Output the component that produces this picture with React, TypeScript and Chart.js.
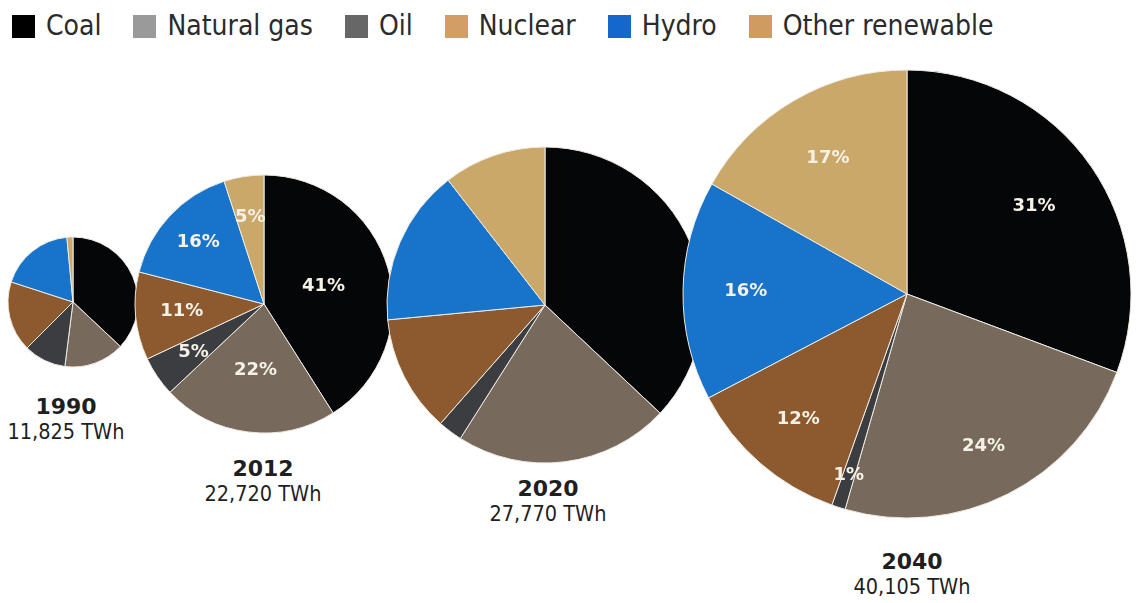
import React, { useEffect, useRef } from "react";
import { Chart, registerables } from "chart.js";

Chart.register(...registerables);

// ---- data ----
const sources = ["Coal", "Natural gas", "Oil", "Nuclear", "Hydro", "Other renewable"];
const years = ["1990", "2012", "2020", "2040"];
const totals = ["11,825 TWh", "22,720 TWh", "27,770 TWh", "40,105 TWh"];
const share1990 = [37, 15, 10.5, 17.5, 18.5, 1.5];
const share2012 = [41, 22, 5, 11, 16, 5];
const share2020 = [37, 22, 2.5, 12, 16, 10.5];
const share2040 = [31, 24, 1, 12, 16, 17];
const showPercent = [false, true, false, true];

// ---- styles ----
const sliceColors = ["#050608", "#776a5c", "#3c3d40", "#8c5a2e", "#1873cb", "#c9a86a"];
const legendColors = ["#000000", "#9a9a9a", "#676767", "#d29e66", "#1467cc", "#d09b60"];

const layout = [
  { cx: 73, cy: 302, r: 65, lx: 66, base: 415, factors: [0.6, 0.6, 0.6, 0.6, 0.6, 0.6] },
  { cx: 264, cy: 304, r: 129, lx: 263, base: 477, factors: [0.48, 0.52, 0.66, 0.64, 0.7, 0.68] },
  { cx: 545, cy: 305, r: 158, lx: 548, base: 497, factors: [0.6, 0.6, 0.6, 0.6, 0.6, 0.6] },
  { cx: 907, cy: 294, r: 224, lx: 912, base: 570, factors: [0.69, 0.76, 0.85, 0.74, 0.72, 0.7] },
];

const allShares = [share1990, share2012, share2020, share2040];

const pctLabels = {
  id: "pctLabels",
  afterDatasetsDraw(chart: any, _args: any, opts: any) {
    if (!opts || !opts.show) return;
    const meta = chart.getDatasetMeta(0);
    const ctx = chart.ctx;
    const vals = chart.data.datasets[0].data;
    ctx.save();
    ctx.font = "bold 18px 'DejaVu Sans', sans-serif";
    ctx.fillStyle = "#f6f1e6";
    ctx.textAlign = "center";
    ctx.textBaseline = "middle";
    meta.data.forEach((arc: any, i: number) => {
      const p = arc.getProps(["x", "y", "startAngle", "endAngle", "outerRadius"], true);
      const mid = (p.startAngle + p.endAngle) / 2;
      const rr = p.outerRadius * (opts.factors[i] ?? 0.65);
      ctx.fillText(vals[i] + "%", p.x + Math.cos(mid) * rr, p.y + Math.sin(mid) * rr);
    });
    ctx.restore();
  },
};

function Pie({ idx }: { idx: number }) {
  const ref = useRef<HTMLCanvasElement>(null);
  const L = layout[idx];
  const S = Math.ceil(2 * L.r + 8);
  useEffect(() => {
    const chart = new Chart(ref.current as HTMLCanvasElement, {
      type: "pie",
      data: {
        labels: sources,
        datasets: [
          {
            data: allShares[idx],
            backgroundColor: sliceColors,
            borderColor: "#eeeae2",
            borderWidth: 1,
          },
        ],
      },
      options: {
        responsive: false,
        maintainAspectRatio: false,
        animation: false,
        radius: L.r,
        layout: { padding: 0 },
        plugins: {
          legend: { display: false },
          tooltip: { enabled: false },
          pctLabels: { show: showPercent[idx], factors: L.factors },
        } as any,
      },
      plugins: [pctLabels as any],
    });
    return () => chart.destroy();
  }, []);
  return (
    <canvas
      ref={ref}
      width={S}
      height={S}
      style={{ position: "absolute", left: L.cx - S / 2, top: L.cy - S / 2, width: S, height: S }}
    />
  );
}

function YearLabel({ idx }: { idx: number }) {
  const L = layout[idx];
  return (
    <div
      style={{
        position: "absolute",
        left: L.lx,
        top: L.base - 18.6,
        transform: "translateX(-50%)",
        textAlign: "center",
        whiteSpace: "nowrap",
        color: "#1f1f1f",
      }}
    >
      <div style={{ font: "bold 22px 'DejaVu Sans', sans-serif", lineHeight: "22px" }}>{years[idx]}</div>
      <div
        style={{
          fontFamily: "'DejaVu Sans Condensed', 'DejaVu Sans', sans-serif",
          fontStretch: "condensed",
          fontSize: 21.5,
          lineHeight: "28px",
        }}
      >
        {totals[idx]}
      </div>
    </div>
  );
}

export default function App() {
  return (
    <div
      style={{
        position: "absolute",
        left: 0,
        top: 0,
        width: 1136,
        height: 603,
        background: "#ffffff",
        overflow: "hidden",
      }}
    >
      <div
        style={{
          position: "absolute",
          left: 12,
          top: 12,
          display: "flex",
          alignItems: "center",
          height: 28,
          fontFamily: "'DejaVu Sans Condensed', 'DejaVu Sans', sans-serif",
          fontStretch: "condensed",
          fontSize: 28,
          lineHeight: "28px",
          color: "#2b2b2b",
          whiteSpace: "nowrap",
        }}
      >
        {sources.map((s, i) => (
          <div key={s} style={{ display: "flex", alignItems: "center", marginRight: 32 }}>
            <span
              style={{ display: "inline-block", width: 23, height: 23, background: legendColors[i], marginRight: 11 }}
            />
            <span>{s}</span>
          </div>
        ))}
      </div>
      {years.map((_, i) => (
        <Pie key={"p" + i} idx={i} />
      ))}
      {years.map((_, i) => (
        <YearLabel key={"l" + i} idx={i} />
      ))}
    </div>
  );
}
